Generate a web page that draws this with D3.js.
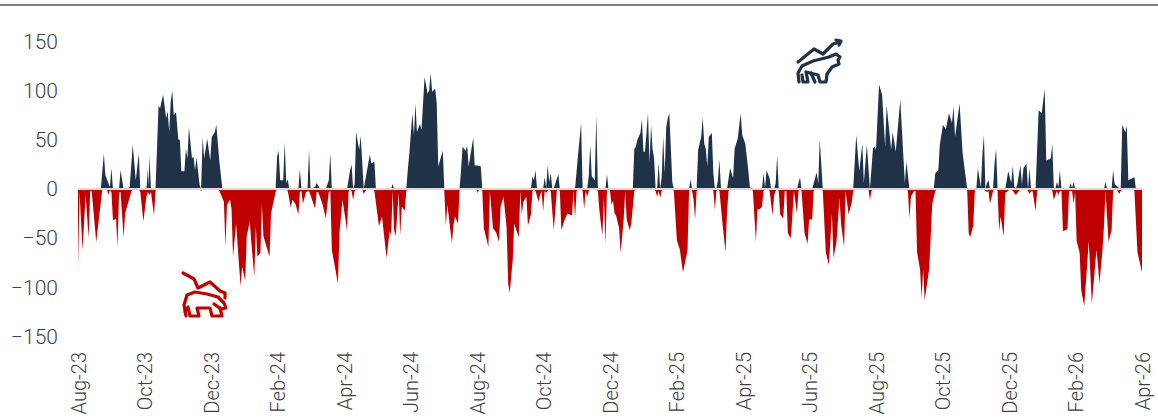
<!DOCTYPE html>
<html><head><meta charset="utf-8">
<style>html,body{margin:0;padding:0;background:#fff}svg{display:block}
text{font-family:Roboto,sans-serif;font-weight:300;fill:#404040}</style>
<script src="https://cdn.jsdelivr.net/npm/d3@7"></script></head>
<body><svg id="c" width="1158" height="419"></svg>
<script>
const monthLabels=["Aug-23","Oct-23","Dec-23","Feb-24","Apr-24","Jun-24","Aug-24","Oct-24","Dec-24","Feb-25","Apr-25","Jun-25","Aug-25","Oct-25","Dec-25","Feb-26","Apr-26"];
const yTicks=[150,100,50,0,-50,-100,-150];
const sessionCount=700;
// [trading session, value]
const bullish=[[15,0],[17,36],[18,14],[21,2],[22,21],[23,0],[27,0],[28,19],[30,0],[33,0],[34,2],[36,45],[38,9],[40,36],[41,0],[45,0],[46,21],[46.5,2],[47,34],[48,0],
[51,0],[53,85],[54,82],[56,96],[58,72],[59,79],[60,58],[61,89],[62,100],[63,75],[64.5,78],[66,50],[67,50],[68,18],[70,18],[71,41],[72,31],[73,63],[75,31],[76,33],[77,19],[78,32],[80,4],[81,0],[82,53],[83,31],[85,51],[87,29],[88,53],[90,58],[91,65],[93,28],[95,0],
[130,0],[131,33],[132,39],[133,9],[135,9],[136,47],[137,6],[138,10],[139,0],[145,0],[146,20],[147,0],[151,0],[152,40],[153,0],[156,2],[157,6],[159,1],[160,0],[163,0],[165,9],[166,36],[167,0],
[177,0],[179,19],[180,25],[181,0],[182,5],[183,58],[184,48],[185,40],[186,54],[188,0],[192,35],[193,26],[195,28],[196,0],[206,0],[207,5],[208,0],
[216,0],[217,20],[218,36],[220,77],[221,55],[222,87],[223,58],[225,66],[226,60],[228,114],[230,97],[231,100],[232,118],[233,99],[235,102],[236,87],[237,23],[240,39],[241,0],
[251,0],[252,19],[253,43],[254,41],[255,39],[256,44],[257,23],[260,52],[261,24],[263,24],[265,23],[266,0],[298,0],[299,13],[300,9],[301,19],[302,0],[306,0],[307,12],[308,1],[309,24],[310,7],[311,16],[312,1],[313,1],[316,15],[317,0],
[327,0],[329,35],[331,67],[332,0],[335,0],[336,13],[337,45],[338,13],[340,9],[341,75],[342,2],[343,0],[347,0],[348,15],[349,0],
[365,0],[366,41],[367,43],[368,50],[370,57],[371,71],[372,38],[373,38],[375,77],[376,26],[377,65],[378,41],[379,31],[380,0],[381,0],[382,27],[383,0],[384,12],[385,53],[386,16],[387,63],[388,72],[389,77],[391,7],[392,0],[402,0],[403,10],[404,0],
[407,0],[408,40],[410,53],[411,73],[412,46],[413,41],[414,23],[415,53],[417,57],[418,16],[419,0],[420,0],[421,9],[422,30],[423,0],[427,0],[429,21],[431,11],[432,41],[434,51],[436,77],[437,55],[439,46],[441,19],[442,2],[444,0],
[450,0],[451,16],[452,1],[453,19],[455,11],[456,0],[458,0],[459,6],[460,34],[461,0],[473,0],[475,12],[476,0],[483,0],[486,17],[487,5],[488,50],[490,0],
[510,0],[512,55],[514,18],[516,46],[517,6],[519,45],[521,0],[523,41],[524,43],[525,40],[527,106],[529,96],[531,43],[532,85],[535,40],[536,58],[538,38],[541,91],[543,33],[544,6],[545,28],[547,0],
[563,0],[564,16],[566,19],[567,45],[569,65],[571,61],[573,77],[575,67],[576,84],[577,53],[580,87],[582,36],[585,0],[591,0],[592,21],[594,2],[595,35],[596,55],[597,0],[598,6],[599,9],[600,0],[602,0],[603,26],[604,41],[605,0],
[610,0],[612,18],[614,6],[615,24],[616,2],[617,0],[618,5],[620,24],[621,5],[622,21],[624,26],[625,0],[626,21],[627,0],[630,0],[632,80],[634,77],[636,102],[637,29],[640,31],[641,46],[642,0],[643,0],[644,7],[645,2],[646,19],[647,0],
[652,0],[653,6],[654,1],[655,7],[656,0],[675,0],[676,7],[677,0],[680,0],[681,19],[682,5],[684,2],[686,0],[687,65],[689,58],[690,64],[691,9],[695,12],[696,0],[700,0]];
const bearish=[[0,-82],[1,-3],[3,-62],[5,-6],[7,-50],[8,-2],[9,-2],[12,-54],[16,0],[19,0],[20,-6],[21,-1],[22,-3],[23,-32],[25,-30],[26,-59],[27,-4],[28,-3],[30,-49],[31,-25],[35,-3],[36,0],[40,0],[41,-3],[43,-33],[45,-8],[46,-3],[47,-6],[48,-3],[50,-27],[51,-2],[52,0],[80,0],[81,-2],[82,0],
[92,0],[93,-2],[96,-13],[97,-59],[98,-16],[100,-11],[101,-20],[102,-69],[104,-35],[106,-79],[107,-99],[108,-79],[110,-93],[111,-48],[113,-33],[114,-54],[116,-89],[117,-38],[118,-69],[120,-65],[121,-16],[122,-48],[126,-69],[127,-25],[130,-3],[131,0],
[137,0],[138,-2],[140,-19],[141,-11],[143,-15],[145,-26],[146,-3],[147,-2],[148,-15],[150,-3],[152,-2],[156,-20],[157,-3],[158,-3],[161,-16],[163,-30],[165,-3],[166,-2],[167,-62],[171,-96],[172,-45],[174,-11],[175,-21],[176,-31],[177,-43],[178,-3],[179,0],[180,-2],[181,-11],[182,-2],[183,0],
[187,0],[188,-5],[189,-2],[190,0],[194,0],[195,-2],[198,-38],[200,-28],[203,-70],[205,-43],[206,-47],[207,-2],[208,-42],[209,-48],[211,-4],[212,-47],[213,-18],[215,-22],[216,-2],[217,0],
[240,0],[241,-2],[242,-37],[243,-16],[246,-55],[247,-37],[248,-28],[250,-35],[251,-2],[252,0],[262,0],[263,-4],[264,0],[265,0],[266,-2],[267,-40],[270,-59],[271,-2],[273,-40],[275,-44],[277,-54],[278,-18],[280,-8],[282,-40],[283,-96],[284,-106],[286,-72],[287,-35],[288,-40],[290,-49],[291,-2],[292,-26],[293,-13],[295,-8],[296,-37],[298,-26],[299,-2],[300,0],
[301,-2],[303,-13],[304,-6],[305,-2],[306,-23],[307,-2],[308,-4],[309,-2],[310,0],[311,-2],[313,-42],[315,-2],[316,0],[317,-2],[318,-42],[320,-32],[322,-25],[325,-27],[326,-2],[327,-30],[328,-2],[329,0],[331,0],[332,-2],[333,-20],[334,-2],[335,-8],[336,-2],[337,0],
[341,0],[342,-2],[343,-21],[344,-35],[345,-47],[346,-8],[347,-57],[348,-2],[349,0],[350,-2],[351,-16],[352,-12],[353,-25],[354,-27],[356,-40],[357,-65],[359,-31],[360,-2],[361,-31],[363,-42],[364,-35],[366,-2],[367,0],
[379,0],[380,-2],[381,-8],[382,-2],[383,-9],[384,-2],[385,0],[391,0],[392,-2],[394,-52],[396,-62],[398,-85],[401,-62],[402,-2],[403,0],[404,-2],[405,-11],[406,-31],[407,-2],[408,0],[417,0],[418,-2],[419,-21],[420,-2],[421,0],
[422,-2],[424,-35],[426,-64],[427,-23],[428,-2],[429,0],[443,0],[444,-2],[446,-54],[447,-20],[448,-21],[450,-18],[451,-2],[452,0],[454,0],[455,-2],[457,-27],[458,-6],[459,-2],[460,0],[461,-2],[462,-26],[464,-30],[465,-2],[466,-2],[467,-45],[469,-50],[471,-2],[473,-25],[474,-2],[475,0],
[476,-2],[478,-45],[480,-56],[481,-31],[483,-31],[484,-2],[485,0],[489,0],[490,-2],[492,-65],[494,-77],[496,-25],[497,-70],[499,-54],[501,-9],[502,-35],[504,-59],[505,-2],[507,-26],[509,-14],[510,-2],[511,0],[520,0],[521,-11],[522,-2],[523,0],
[545,0],[546,-2],[547,-30],[548,-8],[550,-2],[551,-2],[552,-64],[554,-82],[555,-111],[556,-82],[557,-113],[560,-81],[561,-47],[562,-15],[564,-2],[565,0],[584,0],[585,-2],[586,-45],[587,-49],[589,-37],[590,-2],[591,0],[596,0],[597,-2],[598,-3],[599,-2],[600,-15],[602,-2],[603,0],
[604,0],[605,-2],[606,-43],[607,-28],[609,-48],[610,-4],[612,-2],[613,0],[614,0],[615,-2],[617,-6],[619,-2],[620,0],[624,0],[625,-2],[626,-5],[627,-2],[628,-2],[630,-22],[631,-2],[632,0],
[640,0],[641,-2],[642,-11],[644,-2],[645,-6],[646,-2],[647,-2],[648,-43],[651,-41],[652,-2],[654,-2],[655,-15],[656,-3],[657,-53],[659,-65],[660,-103],[662,-119],[665,-53],[667,-117],[670,-62],[671,-77],[672,-96],[674,-62],[675,-37],[676,-2],[678,-54],[680,-42],[681,-2],[682,0],
[683,0],[684,-2],[685,-5],[686,-2],[687,0],[694,0],[695,-2],[697,-64],[700,-85]];

const svg=d3.select("#c");
const x=d3.scaleLinear().domain([0,sessionCount]).range([78,1142]);
const y=d3.scaleLinear().domain([-150,150]).range([336.5,41.5]);
const area=d3.area().x(d=>x(d[0])).y0(y(0)).y1(d=>y(d[1]));

svg.append("line").attr("x1",0).attr("x2",1158).attr("y1",5).attr("y2",5).attr("stroke","#7f7f7f").attr("stroke-width",2);

svg.append("path").datum(bullish).attr("fill","#1f3247").attr("d",area);
svg.append("path").datum(bearish).attr("fill","#c00000").attr("d",area);
svg.append("line").attr("x1",x(0)).attr("x2",x(sessionCount)).attr("y1",y(0)).attr("y2",y(0)).attr("stroke","#d9d9d9").attr("stroke-width",2);

const yAxis=svg.append("g").attr("transform","translate(58,0)")
  .call(d3.axisLeft(y).tickValues(yTicks).tickSize(0).tickPadding(0));
yAxis.select(".domain").remove();
yAxis.selectAll("text").style("font-size","21px").style("font-family","Roboto,sans-serif").style("font-weight",300).style("fill","#404040");

const xAxis=svg.append("g").attr("transform","translate(0,352)")
  .call(d3.axisBottom(x).tickValues(monthLabels.map((_,i)=>i*sessionCount/(monthLabels.length-1))).tickFormat((_,i)=>monthLabels[i]).tickSize(0));
xAxis.select(".domain").remove();
xAxis.selectAll("text").attr("transform","rotate(-90)").attr("x",0).attr("y",0).attr("dy","0.35em")
  .attr("text-anchor","end").style("font-size","20px").style("font-family","Roboto,sans-serif").style("font-weight",300).style("fill","#404040");

function icon(paths,color){
  const g=svg.append("g").attr("fill","none").attr("stroke",color).attr("stroke-width",3.2).attr("stroke-linejoin","round").attr("stroke-linecap","round");
  paths.forEach(p=>g.append("path").attr("d",p));
}
icon(["M798 62L814 49L823 54L833 44L840 42",
"M836 40L841 41L839 45",
"M799 82L798 73L802 66L813 61L829 57L836 54L840 57L838 60L839 64L832 67L827 74L826 82L820 82L818 75L806 72L808 82L803 82L802 75",
"M811 73L815 82"],"#1f3247");
icon(["M183 273L194 279L198 288L210 282L220 291L225 293L225 298",
"M186 316L184 305L187 295L195 292L207 294L218 297L224 303L226 308L221 309L214 304",
"M220 308L222 316L212 316L210 308L197 308L199 316L190 316L188 307L185 312"],"#c00000");
</script></body></html>
